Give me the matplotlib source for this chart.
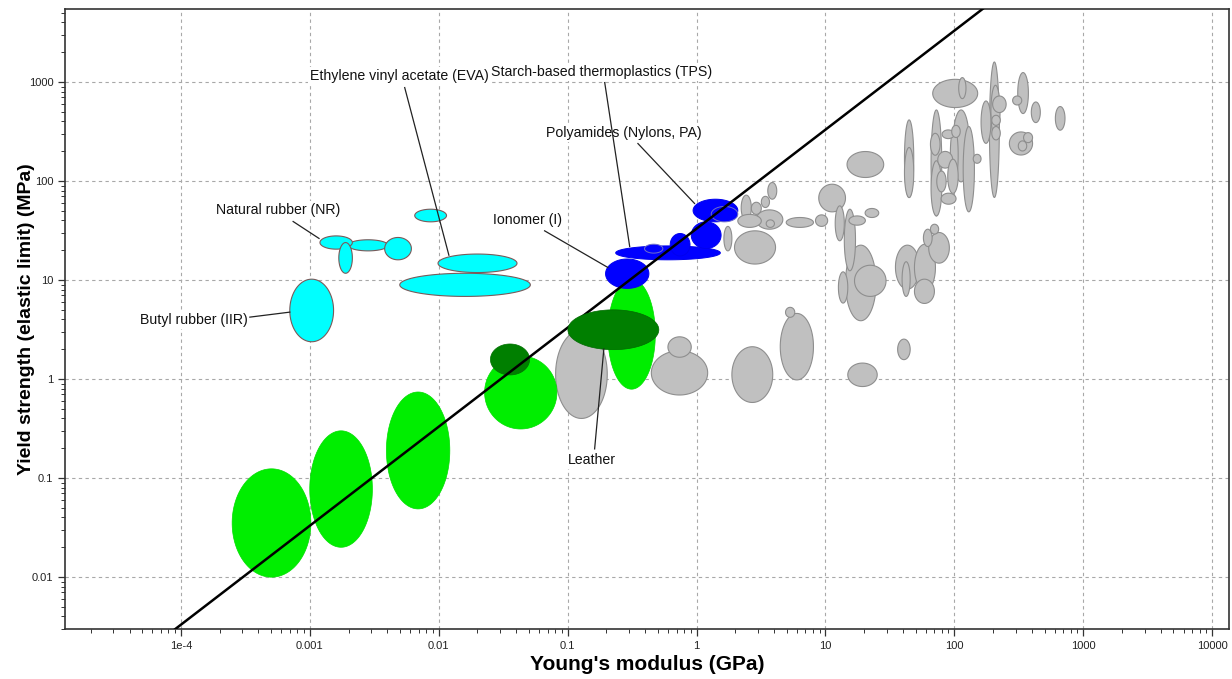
import numpy as np
import matplotlib.pyplot as plt
from matplotlib import ticker

plt.rcParams['font.family'] = ['Liberation Sans', 'DejaVu Sans']

# material property envelopes: (E min, E max, yield min, yield max) in GPa / MPa
grey_regions = [
    (0.0807, 0.203, 0.40, 3.12),
    (0.446, 1.22, 0.69, 1.93),
    (0.60, 0.91, 1.66, 2.67),
    (1.88, 3.90, 0.58, 2.12),
    (4.46, 8.07, 0.98, 4.6),
    (4.9, 5.78, 4.2, 5.3),
    (14.9, 25.2, 0.84, 1.45),
    (36.3, 45.4, 1.57, 2.53),
    (1.63, 1.88, 19.7, 34.8),
    (1.97, 4.10, 14.5, 31.4),
    (2.22, 2.66, 40.0, 72.0),
    (2.66, 3.18, 46.0, 61.0),
    (3.18, 3.68, 54.0, 70.0),
    (3.57, 4.19, 65.5, 96.6),
    (2.90, 4.67, 32.6, 51.1),
    (2.09, 3.18, 34.0, 46.0),
    (3.47, 4.02, 34.0, 40.5),
    (4.96, 8.07, 34.0, 42.8),
    (8.37, 10.4, 34.8, 45.5),
    (8.87, 14.3, 48.8, 92.8),
    (14.3, 24.7, 3.88, 22.5),
    (12.6, 14.9, 5.85, 12.1),
    (16.8, 29.5, 6.83, 14.1),
    (11.9, 14.0, 24.9, 56.1),
    (14.0, 17.1, 12.4, 51.9),
    (15.2, 20.4, 35.8, 44.4),
    (20.3, 25.9, 42.8, 52.8),
    (34.9, 53.5, 8.09, 22.5),
    (39.3, 45.4, 6.83, 15.3),
    (49.0, 71.3, 7.78, 23.0),
    (49.0, 70.0, 5.8, 10.2),
    (63.2, 91.4, 14.8, 30.2),
    (57.5, 67.2, 21.8, 32.6),
    (65.2, 75.5, 29.1, 36.6),
    (14.7, 28.3, 108.5, 198.5),
    (41.0, 48.4, 68.2, 414.0),
    (41.0, 48.4, 68.0, 218.0),
    (65.9, 79.8, 44.4, 522.0),
    (65.2, 77.4, 182.0, 303.0),
    (65.9, 79.8, 44.4, 160.0),
    (97.0, 131.0, 98.0, 522.0),
    (93.0, 107.0, 96.6, 347.0),
    (80.3, 100.0, 268.0, 328.0),
    (95.3, 111.0, 275.0, 365.0),
    (74.3, 97.0, 135.0, 199.0),
    (88.8, 107.0, 75.0, 166.0),
    (73.0, 86.3, 77.6, 126.0),
    (78.9, 103.0, 58.3, 75.3),
    (117.0, 143.0, 48.8, 355.0),
    (140.0, 161.0, 151.0, 186.0),
    (67.9, 151.6, 552.0, 1064.0),
    (108.0, 123.0, 679.0, 1107.0),
    (187.0, 223.0, 68.2, 1592.0),
    (192.0, 226.0, 275.0, 926.0),
    (161.0, 192.0, 240.0, 643.0),
    (198.0, 252.0, 491.0, 722.0),
    (195.0, 227.0, 365.0, 461.0),
    (195.0, 227.0, 260.0, 355.0),
    (310.0, 375.0, 480.0, 1245.0),
    (283.0, 333.0, 586.0, 722.0),
    (395.0, 464.0, 389.0, 628.0),
    (607.0, 721.0, 326.0, 565.0),
    (267.0, 404.0, 183.0, 313.0),
    (313.0, 364.0, 201.0, 254.0),
    (344.0, 404.0, 244.0, 308.0),
]

foam_regions = [
    (2.5e-4, 1.02e-3, 0.00998, 0.124),
    (1.0e-3, 3.06e-3, 0.020, 0.30),
    (3.93e-3, 0.0122, 0.0488, 0.74),
    (0.0227, 0.0826, 0.313, 1.71),
    (0.205, 0.479, 0.79, 10.2),
]

natural_regions = [
    (0.0252, 0.0507, 1.10, 2.26),
]
leather_region = (0.1005, 0.510, 1.98, 5.0)

polymer_regions = [
    (0.197, 0.427, 8.23, 16.3),   # ionomer
    (0.236, 1.53, 16.0, 22.1),    # TPS
    (0.395, 0.548, 18.7, 23.0),
    (0.625, 0.89, 17.5, 29.5),
    (0.91, 1.55, 20.8, 38.7),
    (0.94, 2.09, 38.7, 65.5),     # PA
    (1.30, 2.09, 38.7, 55.3),
]
polymer_outlined = [False, False, True, False, False, False, True]

elastomer_regions = [
    (1.98e-3, 4.05e-3, 19.7, 25.5),
    (1.2e-3, 2.14e-3, 20.5, 27.9),   # NR
    (1.68e-3, 2.14e-3, 11.7, 23.9),
    (3.81e-3, 6.14e-3, 16.0, 26.9),
    (6.52e-3, 0.0115, 38.7, 51.9),
    (9.88e-3, 0.0405, 11.9, 18.3),   # EVA
    (4.99e-3, 0.0514, 6.83, 11.7),
    (7.0e-4, 1.53e-3, 2.38, 10.2),   # IIR
]

# guide line: yield strength = 33 * modulus
guide_ratio = 33.0
guide_E = [1e-6, 1e5]

x_ticks = [1e-4, 1e-3, 1e-2, 1e-1, 1, 10, 100, 1000, 10000]
x_tick_labels = ['1e-4', '0.001', '0.01', '0.1', '1', '10', '100', '1000', '10000']
y_ticks = [0.01, 0.1, 1, 10, 100, 1000]
y_tick_labels = ['0.01', '0.1', '1', '10', '100', '1000']

# label text, text position, alignment, leader start, leader end
labels = [
    ('Natural rubber (NR)', (5.65e-4, 50.7), 'center', (7.43e-4, 39.0), (1.18e-3, 26.3)),
    ('Ethylene vinyl acetate (EVA)', (1.01e-3, 1150), 'left', (5.45e-3, 878), (0.0120, 17.8)),
    ('Starch-based thermoplastics (TPS)', (0.0256, 1262), 'left', (0.194, 986), (0.303, 21.8)),
    ('Polyamides (Nylons, PA)', (0.0684, 308), 'left', (0.351, 239), (0.965, 59.3)),
    ('Ionomer (I)', (0.0263, 40.5), 'left', (0.0663, 31.4), (0.205, 13.4)),
    ('Butyl rubber (IIR)', (3.30e-4, 3.94), 'right', (3.43e-4, 4.22), (7.0e-4, 4.74)),
    ('Leather', (0.153, 0.152), 'center', (0.162, 0.197), (0.191, 2.01)),
]


def draw_region(ax, reg, face, edge, z, lw=0.8):
    emin, emax, smin, smax = reg
    cx = (np.log10(emin) + np.log10(emax)) / 2
    rx = (np.log10(emax) - np.log10(emin)) / 2
    cy = (np.log10(smin) + np.log10(smax)) / 2
    ry = (np.log10(smax) - np.log10(smin)) / 2
    t = np.linspace(0, 2 * np.pi, 120)
    xs = 10 ** (cx + rx * np.cos(t))
    ys = 10 ** (cy + ry * np.sin(t))
    ax.fill(xs, ys, facecolor=face, edgecolor=edge, lw=lw, zorder=z)


fig = plt.figure(figsize=(12.32, 6.79), dpi=100)
ax = fig.add_axes([0.053, 0.0732, 0.9446, 0.9131])
ax.set_xscale('log')
ax.set_yscale('log')
ax.set_xlim(1.27e-5, 1.35e4)
ax.set_ylim(0.00297, 5420)

for reg in grey_regions:
    draw_region(ax, reg, '#c0c0c0', '#8e8e8e', 2)
for reg in foam_regions:
    draw_region(ax, reg, '#00ee00', '#00dd00', 3, lw=0.5)
for reg in natural_regions:
    draw_region(ax, reg, '#007f00', '#007000', 3.5, lw=0.5)
for reg, outl in zip(polymer_regions, polymer_outlined):
    draw_region(ax, reg, '#0000ff', '#7070c8' if outl else '#0000ee', 4, lw=0.7)
for reg in elastomer_regions:
    draw_region(ax, reg, '#00ffff', '#7a5a5a', 4)
draw_region(ax, leather_region, '#007f00', '#006a00', 6, lw=0.5)

ax.plot(guide_E, [guide_ratio * e for e in guide_E], color='black', lw=1.8, zorder=5)

for text, pos, ha, p0, p1 in labels:
    ax.text(pos[0], pos[1], text, ha=ha, va='center', fontsize=10.2, color='#111111',
            zorder=7, bbox=dict(facecolor='white', edgecolor='none', pad=1.5))
    ax.plot([p0[0], p1[0]], [p0[1], p1[1]], color='#222222', lw=0.9, zorder=8)

ax.xaxis.set_major_locator(ticker.FixedLocator(x_ticks))
ax.xaxis.set_major_formatter(ticker.FixedFormatter(x_tick_labels))
ax.yaxis.set_major_locator(ticker.FixedLocator(y_ticks))
ax.yaxis.set_major_formatter(ticker.FixedFormatter(y_tick_labels))
for axis in (ax.xaxis, ax.yaxis):
    axis.set_minor_locator(ticker.LogLocator(base=10, subs=np.arange(2, 10), numticks=100))
    axis.set_minor_formatter(ticker.NullFormatter())

ax.tick_params(which='major', direction='out', length=5, width=0.9, colors='#333333',
               labelsize=8, labelcolor='#222222')
ax.tick_params(which='minor', direction='out', length=3, width=0.7, colors='#333333')

ax.grid(True, which='major', color='#a8a8a8', linestyle=(0, (3, 3)), lw=0.8, zorder=0)
ax.set_axisbelow(True)
for sp in ax.spines.values():
    sp.set_color('#333333')
    sp.set_linewidth(1.2)

ax.set_xlabel("Young's modulus (GPa)", fontsize=15, fontweight='bold')
ax.set_ylabel('Yield strength (elastic limit) (MPa)', fontsize=14, fontweight='bold')
ax.xaxis.set_label_coords(0.5, -0.042)
ax.yaxis.set_label_coords(-0.026, 0.5)

fig.savefig('out.png', dpi=100)
